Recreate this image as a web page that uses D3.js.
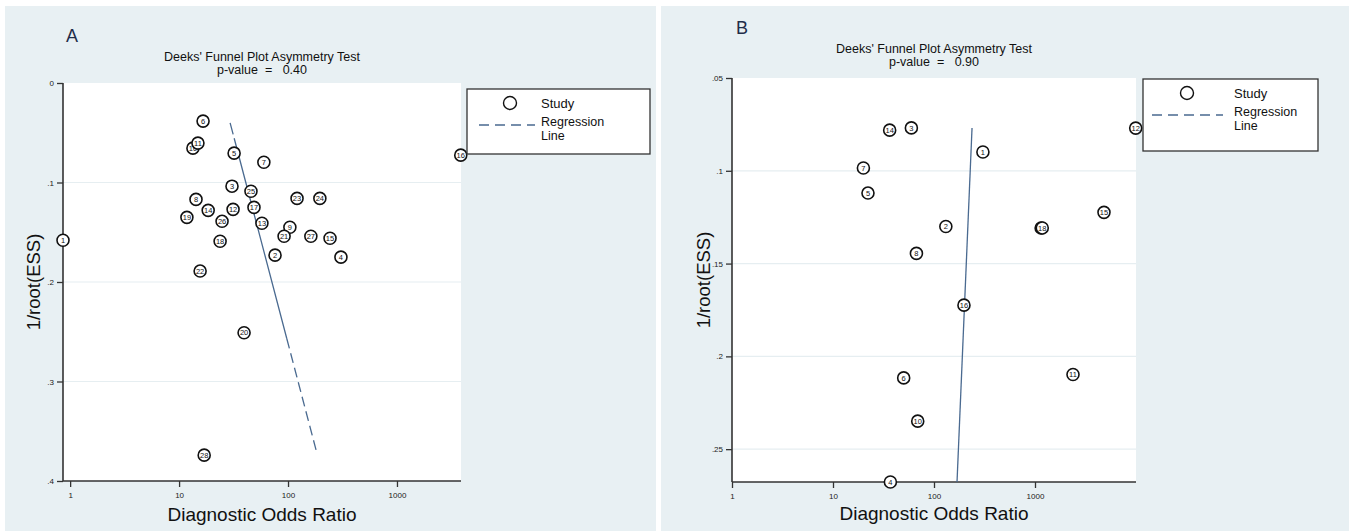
<!DOCTYPE html>
<html>
<head>
<meta charset="utf-8">
<script src="https://cdn.jsdelivr.net/npm/d3@7"></script>
<style>
  html, body { margin: 0; padding: 0; background: #ffffff; }
  svg { display: block; font-family: "Liberation Sans", Arial, sans-serif; }
</style>
</head>
<body>
<svg id="chart" width="1351" height="531"></svg>
<script>
// ---------------- DATA ----------------
const xTickValues = [1, 10, 100, 1000];
const xTickLabels = ["1", "10", "100", "1000"];

// Panel A
const yTicksA = [0, 0.1, 0.2, 0.3, 0.4];
const yTickLabelsA = ["0", ".1", ".2", ".3", ".4"];
const studyA = [1, 2, 3, 4, 5, 6, 7, 8, 9, 10, 11, 12, 13, 14, 15, 16, 17, 18, 19, 20, 21, 22, 23, 24, 25, 26, 27, 28];
const dorA   = [0.86, 76, 30.6, 306, 32, 16.6, 60, 14.3, 104, 13.4, 14.9, 31.3, 57.6, 18.5, 243, 3850, 48.7, 23.8, 11.8, 39.5, 92, 15.6, 121, 196, 45.7, 24.8, 162, 17];
const essA   = [0.158, 0.173, 0.1037, 0.175, 0.0705, 0.0383, 0.0796, 0.117, 0.145, 0.0655, 0.0604, 0.127, 0.141, 0.128, 0.156, 0.0725, 0.125, 0.159, 0.135, 0.251, 0.154, 0.189, 0.116, 0.116, 0.1088, 0.139, 0.154, 0.374];
const regDorA = [29.4, 97.5, 181];
const regEssA = [0.040, 0.257, 0.369];
const pValueA = "0.40";

// Panel B
const yTicksB = [0.05, 0.1, 0.15, 0.2, 0.25];
const yTickLabelsB = [".05", ".1", ".15", ".2", ".25"];
const studyB = [1, 2, 3, 4, 5, 6, 7, 8, 10, 11, 12, 13, 18, 14, 15, 16];
const dorB   = [305, 131, 59.7, 37, 22.2, 50.1, 20, 67, 69, 2378, 9930, 1150, 1180, 36.4, 4820, 198];
const essB   = [0.0899, 0.130, 0.0769, 0.2677, 0.112, 0.2116, 0.0985, 0.1445, 0.2349, 0.2098, 0.077, 0.1308, 0.1308, 0.0781, 0.1224, 0.1724];
const regDorB = [238, 169];
const regEssB = [0.0769, 0.2677];
const pValueB = "0.90";

// ---------------- DRAW ----------------
const svg = d3.select("#chart");
const panelBg = "#e8f0f3";
const gridColor = "#e6eef1";
const axisColor = "#333333";
const lineColor = "#4a6a90";

function drawPanel(cfg) {
  const g = svg.append("g");
  g.append("rect").attr("x", cfg.bg[0]).attr("y", cfg.bg[1])
    .attr("width", cfg.bg[2]).attr("height", cfg.bg[3]).attr("fill", panelBg);

  const x = d3.scaleLog().domain(cfg.xDomain).range([cfg.plot.x0, cfg.plot.x1]);
  const y = d3.scaleLinear().domain(cfg.yDomain).range([cfg.plot.y0, cfg.plot.y1]);

  g.append("rect").attr("x", cfg.plot.x0).attr("y", cfg.plot.y0)
    .attr("width", cfg.plot.x1 - cfg.plot.x0).attr("height", cfg.plot.y1 - cfg.plot.y0)
    .attr("fill", "#ffffff");

  g.selectAll(".grid").data(cfg.yTicks.filter(v => y(v) > cfg.plot.y0 + 2 && y(v) < cfg.plot.y1 - 2))
    .enter().append("line")
    .attr("x1", cfg.plot.x0).attr("x2", cfg.plot.x1)
    .attr("y1", d => y(d)).attr("y2", d => y(d))
    .attr("stroke", gridColor).attr("stroke-width", 1.2);

  const yAxis = d3.axisLeft(y).tickValues(cfg.yTicks)
    .tickFormat((d, i) => cfg.yTickLabels[i]).tickSize(6).tickPadding(3).tickSizeOuter(0);
  const ya = g.append("g").attr("transform", `translate(${cfg.plot.x0},0)`).call(yAxis);
  ya.select(".domain").attr("stroke", axisColor).attr("stroke-width", 1.6)
    .attr("d", `M0,${cfg.plot.y0}V${cfg.plot.y1}`);
  ya.selectAll(".tick line").attr("stroke", axisColor).attr("stroke-width", 1.3);
  ya.selectAll(".tick text").attr("font-size", 8).attr("fill", "#222");

  const xAxis = d3.axisBottom(x).tickValues(xTickValues)
    .tickFormat((d, i) => xTickLabels[i]).tickSize(6).tickPadding(5).tickSizeOuter(0);
  const xa = g.append("g").attr("transform", `translate(0,${cfg.plot.y1})`).call(xAxis);
  xa.select(".domain").attr("stroke", axisColor).attr("stroke-width", 1.6)
    .attr("d", `M${cfg.plot.x0},0H${cfg.plot.x1}`);
  xa.selectAll(".tick line").attr("stroke", axisColor).attr("stroke-width", 1.3);
  xa.selectAll(".tick text").attr("font-size", 8).attr("fill", "#222");

  const regPts = cfg.regDor.map((d, i) => [x(d), y(cfg.regEss[i])]);
  const lineGen = d3.line();
  if (cfg.regPartial) {
    g.append("path").attr("d", lineGen(regPts.slice(0, 2)))
      .attr("stroke", lineColor).attr("stroke-width", 1.3).attr("fill", "none")
      .attr("stroke-dasharray", "12,4,2000");
    g.append("path").attr("d", lineGen(regPts.slice(1)))
      .attr("stroke", lineColor).attr("stroke-width", 1.3).attr("fill", "none")
      .attr("stroke-dasharray", "10,5");
  } else {
    g.append("path").attr("d", lineGen(regPts))
      .attr("stroke", lineColor).attr("stroke-width", 1.3).attr("fill", "none");
  }

  const pts = cfg.study.map((s, i) => ({ s, dor: cfg.dor[i], ess: cfg.ess[i] }));
  const pg = g.selectAll(".pt").data(pts).enter().append("g")
    .attr("transform", d => `translate(${x(d.dor)},${y(d.ess)})`);
  pg.append("circle").attr("r", 6).attr("fill", "#ffffff")
    .attr("stroke", "#111").attr("stroke-width", 1.6);
  pg.append("text").text(d => d.s).attr("text-anchor", "middle").attr("dy", "0.35em")
    .attr("font-size", 7.5).attr("fill", "#111");

  g.append("text").attr("x", cfg.letterPos[0]).attr("y", cfg.letterPos[1])
    .text(cfg.letter).attr("font-size", 18).attr("fill", "#1f2d4a");

  const cx = (cfg.plot.x0 + cfg.plot.x1) / 2;
  g.append("text").attr("x", cx).attr("y", cfg.titleY).attr("text-anchor", "middle")
    .attr("font-size", 12.5).attr("fill", "#111").text("Deeks' Funnel Plot Asymmetry Test");
  g.append("text").attr("x", cx).attr("y", cfg.titleY + 13).attr("text-anchor", "middle")
    .attr("font-size", 12.5).attr("fill", "#111").style("white-space", "pre")
    .text("p-value  =   " + cfg.pValue);

  g.append("text").attr("transform", `translate(${cfg.yTitleX},${(cfg.plot.y0 + cfg.plot.y1) / 2}) rotate(-90)`)
    .attr("text-anchor", "middle").attr("font-size", 18.5).attr("fill", "#111").text("1/root(ESS)");
  g.append("text").attr("x", cx).attr("y", cfg.xTitleY).attr("text-anchor", "middle")
    .attr("font-size", 19).attr("fill", "#111").text("Diagnostic Odds Ratio");

  const L = cfg.legend;
  g.append("rect").attr("x", L.x).attr("y", L.y).attr("width", L.w).attr("height", L.h)
    .attr("fill", "#ffffff").attr("stroke", "#333").attr("stroke-width", 1.3);
  g.append("circle").attr("cx", L.x + L.circDx).attr("cy", L.y + 14).attr("r", 6.5)
    .attr("fill", "#fff").attr("stroke", "#111").attr("stroke-width", 1.4);
  g.append("text").attr("x", L.x + L.textDx).attr("y", L.y + 19).attr("font-size", 13)
    .attr("fill", "#111").text("Study");
  g.append("line").attr("x1", L.x + L.dash0).attr("x2", L.x + L.dash1)
    .attr("y1", L.y + 36).attr("y2", L.y + 36)
    .attr("stroke", lineColor).attr("stroke-width", 1.3).attr("stroke-dasharray", "10,6");
  g.append("text").attr("x", L.x + L.textDx).attr("y", L.y + 37).attr("font-size", 12.5)
    .attr("fill", "#111").text("Regression");
  g.append("text").attr("x", L.x + L.textDx).attr("y", L.y + 51).attr("font-size", 12.5)
    .attr("fill", "#111").text("Line");
}

drawPanel({
  bg: [5, 6, 651, 525],
  plot: { x0: 63, x1: 461, y0: 83, y1: 481 },
  xDomain: [0.86, 3870], yDomain: [0, 0.4],
  yTicks: yTicksA, yTickLabels: yTickLabelsA,
  study: studyA, dor: dorA, ess: essA,
  regDor: regDorA, regEss: regEssA, regPartial: true,
  pValue: pValueA, letter: "A", letterPos: [66, 42],
  titleY: 61, yTitleX: 40, xTitleY: 521,
  legend: { x: 467, y: 89, w: 183, h: 65, circDx: 43, textDx: 74, dash0: 12, dash1: 68 }
});

drawPanel({
  bg: [661, 6, 688, 525],
  plot: { x0: 732, x1: 1136, y0: 78, y1: 482 },
  xDomain: [1, 10000], yDomain: [0.05, 0.2677],
  yTicks: yTicksB, yTickLabels: yTickLabelsB,
  study: studyB, dor: dorB, ess: essB,
  regDor: regDorB, regEss: regEssB, regPartial: false,
  pValue: pValueB, letter: "B", letterPos: [736, 34],
  titleY: 53, yTitleX: 710, xTitleY: 520,
  legend: { x: 1143, y: 79, w: 175, h: 72, circDx: 44, textDx: 91, dash0: 9, dash1: 80 }
});
</script>
</body>
</html>
